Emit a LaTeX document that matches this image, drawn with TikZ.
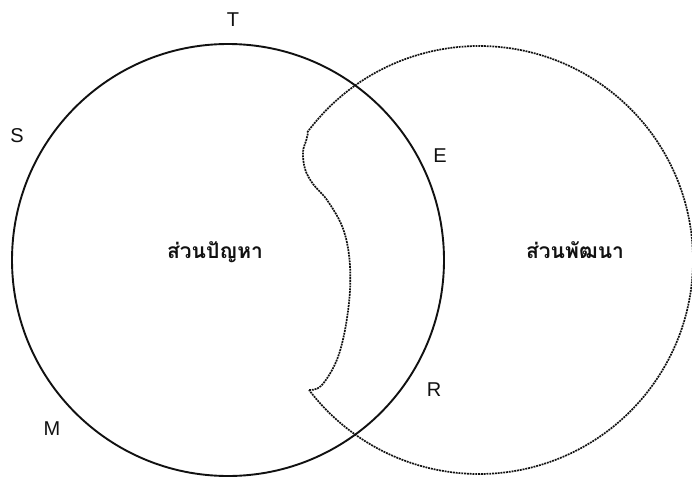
\documentclass[tikz,border=0pt]{standalone}
\usepackage{fontspec}
\setmainfont{Liberation Sans}
\newfontfamily\thaifont[Script=Thai]{Loma}
\usepackage{tikz}
\definecolor{Ink}{HTML}{111111}

\begin{document}
\begin{tikzpicture}[x=1pt,y=-1pt,
    ringsolid/.style={Ink,line width=1.9pt},
    ringdotted/.style={Ink,line width=1.7pt,dash pattern=on 1.9pt off 0.9pt},
    letter/.style={font=\fontsize{20}{24}\selectfont,text=Ink,inner sep=0pt},
    partname/.style={font=\thaifont\bfseries\fontsize{21}{25}\selectfont,text=Ink,inner sep=0pt,anchor=base}]
    \useasboundingbox[fill=white] (0,0) rectangle (692,476);

    \coordinate (cleft) at (228,260);
    \coordinate (cright) at (479,260);

    \draw[ringsolid] (cleft) circle (216);

    \draw[ringdotted] (cright) ++(-143.4:214) coordinate (rtop)
      arc[start angle=-143.4,end angle=142.6,radius=214] coordinate (rbottom)
      plot[smooth,tension=0.6] coordinates {(309,390) (321,386) (336,362) (345,330)
        (350,290) (349,255) (342,226) (327,200) (313,184) (305,169) (303,152) (306,141) (308,133)};

    \node[partname] (problem) at (215,258) {ส่วนปัญหา};
    \node[partname] (develop) at (575,258) {ส่วนพัฒนา};

    \node[letter] (lt) at (233,20) {T};
    \node[letter] (ls) at (17,136) {S};
    \node[letter] (le) at (440,156) {E};
    \node[letter] (lm) at (52,429) {M};
    \node[letter] (lr) at (434,390) {R};
\end{tikzpicture}
\end{document}
